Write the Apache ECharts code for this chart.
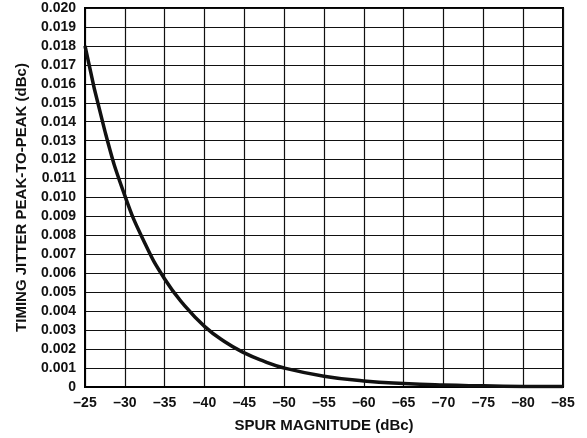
<!DOCTYPE html>
<html>
<head>
<meta charset="utf-8">
<script src="https://cdn.jsdelivr.net/npm/echarts@6/dist/echarts.min.js"></script>
<style>
  html, body { margin: 0; padding: 0; background: #fff; }
  #chart { width: 587px; height: 438px; }
</style>
</head>
<body>
<div id="chart"></div>
<script>
// spur magnitude (dBc) and peak-to-peak timing jitter
var spurDbc = [-25, -27.5, -30, -32.5, -35, -37.5, -40, -42.5, -45, -47.5, -50, -55, -60, -65, -70, -75, -80, -85];
var jitter = [0.0180, 0.0135, 0.0101, 0.0076, 0.0057, 0.0043, 0.0032, 0.0024, 0.0018, 0.00135, 0.0010, 0.00057, 0.00032, 0.00018, 0.00010, 0.00006, 0.00003, 0.00002];

var points = spurDbc.map(function (x, i) { return [x, jitter[i]]; });

var chart = echarts.init(document.getElementById('chart'));

var tickFont = {
    color: '#111',
    fontFamily: 'Liberation Sans, Arial, sans-serif',
    fontWeight: 'bold',
    fontSize: 14
};
var nameFont = {
    color: '#111',
    fontFamily: 'Liberation Sans, Arial, sans-serif',
    fontWeight: 'bold',
    fontSize: 15
};

chart.setOption({
    animation: false,
    grid: {
        left: 85, right: 24, top: 8, bottom: 49,
        show: true, borderColor: '#000', borderWidth: 2
    },
    xAxis: {
        type: 'value',
        inverse: true,
        min: -85,
        max: -25,
        interval: 5,
        name: 'SPUR MAGNITUDE (dBc)',
        nameLocation: 'middle',
        nameGap: 31,
        nameTextStyle: nameFont,
        axisLine: { show: true, lineStyle: { color: '#000', width: 2 } },
        axisTick: { show: false },
        splitLine: { show: true, lineStyle: { color: '#111', width: 1.2 } },
        axisLabel: Object.assign({
            margin: 9,
            formatter: function (v) { return String(v).replace('-', '\u2013'); }
        }, tickFont)
    },
    yAxis: {
        type: 'value',
        min: 0,
        max: 0.02,
        interval: 0.001,
        name: 'TIMING JITTER PEAK-TO-PEAK (dBc)',
        nameLocation: 'middle',
        nameGap: 56,
        nameTextStyle: nameFont,
        axisLine: { show: true, lineStyle: { color: '#000', width: 2 } },
        axisTick: { show: false },
        splitLine: { show: true, lineStyle: { color: '#111', width: 1.2 } },
        axisLabel: Object.assign({
            margin: 9,
            formatter: function (v) { return v === 0 ? '0' : v.toFixed(3); }
        }, tickFont)
    },
    series: [{
        type: 'line',
        data: points,
        smooth: true,
        symbol: 'none',
        lineStyle: { color: '#111', width: 3.5 }
    }]
});
</script>
</body>
</html>
